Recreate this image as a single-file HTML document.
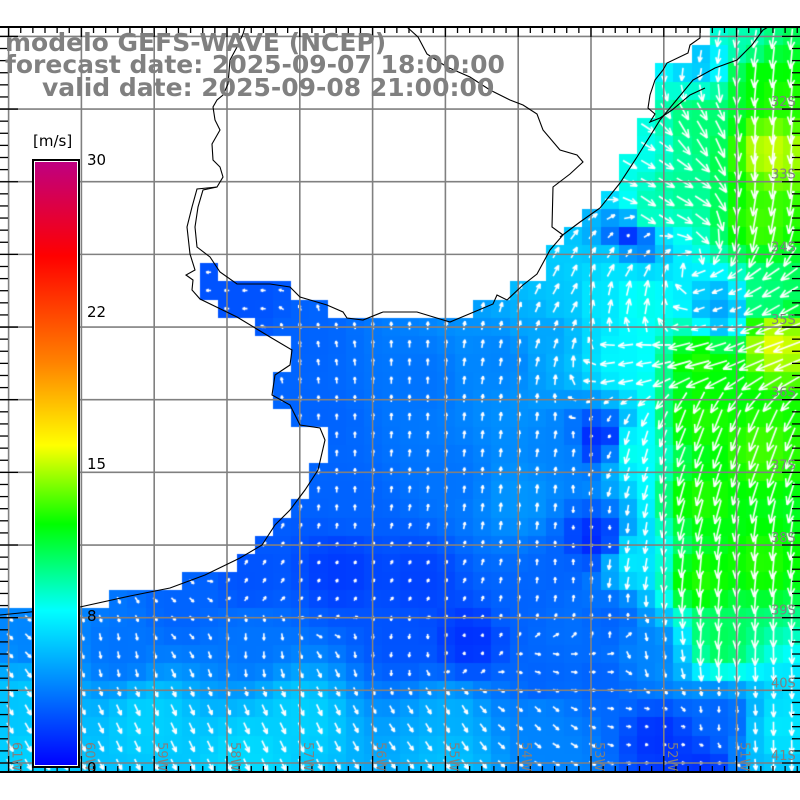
<!DOCTYPE html>
<html><head><meta charset="utf-8">
<style>
html,body{margin:0;padding:0;background:#fff;}
#wrap{position:relative;width:800px;height:800px;overflow:hidden;background:#fff;}
canvas,svg{position:absolute;left:0;top:0;}
.t{position:absolute;font-family:"DejaVu Sans","Liberation Sans",sans-serif;font-weight:bold;font-size:25px;color:#808080;white-space:nowrap;line-height:26px;}
.cl{position:absolute;font-family:"DejaVu Sans","Liberation Sans",sans-serif;font-size:15px;color:#000;white-space:nowrap;line-height:16px;}
#cb{position:absolute;left:32px;top:159px;width:44px;height:605px;border:2px solid #000;box-shadow:inset 0 0 0 1px #fff;
background:linear-gradient(to bottom,#be0082 0%,#ff0000 15.7%,#ff8200 33.3%,#ffff00 47%,#00ff00 60%,#00ffff 74.3%,#0000ff 100%);}
</style></head><body>
<div id="wrap">
<canvas id="c" width="800" height="800"></canvas>
<svg id="s" width="800" height="800" xmlns="http://www.w3.org/2000/svg"></svg>
<div class="t" style="left:5px;top:30px;">modelo GEFS-WAVE (NCEP)</div>
<div class="t" style="left:5px;top:52px;">forecast date: 2025-09-07 18:00:00</div>
<div class="t" style="left:42px;top:75px;">valid date: 2025-09-08 21:00:00</div>
<div class="cl" style="left:33px;top:133px;">[m/s]</div>
<div id="cb"></div>
<div class="cl" style="left:87px;top:152px;">30</div>
<div class="cl" style="left:87px;top:304px;">22</div>
<div class="cl" style="left:87px;top:456px;">15</div>
<div class="cl" style="left:87px;top:608px;">8</div>
<div class="cl" style="left:87px;top:760px;">0</div>
</div>
<script>
var A=[
[30,640,4,45],[120,650,3.5,80],[250,640,3.5,90],[400,640,2.5,100],
[30,700,6,60],[150,720,6.3,65],[300,720,6.3,65],[450,720,5.3,60],[540,720,4,45],
[30,760,6.3,60],[250,760,6.6,65],[450,760,5.8,55],[560,760,4,30],
[300,340,3,-100],[320,420,3,-90],[420,380,3.5,-90],[500,360,4,-80],[550,330,5,-70],
[350,500,3,-90],[450,480,3.5,-85],[520,500,4.5,-85],[560,450,4,-80],
[340,570,1.8,-60],[420,580,2,-60],[470,640,1.5,-70],[520,600,3,-80],[560,570,3,-90],
[600,440,1.2,120],[595,540,1.2,90],[610,620,3,-90],
[565,300,6,-60],[630,450,8,105],[630,560,7,100],
[650,650,4,80],[600,680,3,0],[540,680,3,20],
[640,150,8,30],[680,190,9.5,30],[650,210,9,35],[700,120,10,60],[770,150,15,95],[780,100,12.5,95],[760,220,13,100],
[620,265,7,-60],[600,300,7,-80],[640,300,8,-80],
[630,240,1.5,-45],[720,310,5,160],[770,300,10,150],
[700,360,12.5,165],[775,340,15.5,160],[625,360,7.5,170],
[700,420,12.5,110],[760,450,13,110],[700,500,12.5,105],[700,580,12.5,95],[760,560,12.5,95],[720,640,10.5,95],
[700,60,6,100],[740,40,9,100],[760,80,12,95],
[660,740,1.5,0],[720,720,3,90],[780,730,7,90],[700,770,1.5,0],[780,770,6,90],
[220,290,2.5,180],[250,300,2.5,180],[250,580,2.5,-60],[180,605,3,45]];
var L=[[0,27],[700,27],[708,42],[690,50],[670,62],[658,80],[650,100],[646,117],[636,134],[628,152],[618,170],[606,188],[592,206],[576,224],[558,242],[545,258],[537,274],[523,285],[507,300],[493,304],[450,322],[417,312],[383,312],[363,320],[347,318],[343,312],[327,305],[300,297],[290,287],[270,284],[237,284],[220,272],[210,257],[197,262],[193,280],[200,299],[237,317],[270,337],[292,350],[290,365],[275,375],[272,395],[290,405],[300,425],[320,428],[325,440],[318,470],[305,490],[290,510],[275,525],[262,545],[240,558],[205,575],[170,588],[130,596],[80,607],[30,612],[0,615]];
function inPoly(x,y,P){var c=false;for(var i=0,j=P.length-1;i<P.length;j=i++){var xi=P[i][0],yi=P[i][1],xj=P[j][0],yj=P[j][1];if(((yi>y)!=(yj>y))&&(x<(xj-xi)*(y-yi)/(yj-yi)+xi))c=!c;}return c;}
var stops=[[0,0,0,255],[7.7,0,255,255],[12,0,255,0],[15.9,255,255,0],[20,255,130,0],[25.3,255,0,0],[30,190,0,130]];
function col(v){v=Math.max(0,Math.min(30,v));for(var i=1;i<stops.length;i++){if(v<=stops[i][0]){var a=stops[i-1],b=stops[i],t=(v-a[0])/(b[0]-a[0]);return 'rgb('+Math.round(a[1]+t*(b[1]-a[1]))+','+Math.round(a[2]+t*(b[2]-a[2]))+','+Math.round(a[3]+t*(b[3]-a[3]))+')';}}return '#000';}
function field(x,y){var ws=0,s=0,u=0,w=0;for(var k=0;k<A.length;k++){var dx=x-A[k][0],dy=y-A[k][1],d=dx*dx+dy*dy+40;var wt=1/Math.pow(d,1.6);ws+=wt;s+=wt*A[k][2];var an=A[k][3]*Math.PI/180;u+=wt*Math.cos(an);w+=wt*Math.sin(an);}return [s/ws,Math.atan2(w,u)];}
var c=document.getElementById('c').getContext('2d');
var cw=18.2,ch=18.17;
var cells=[];
for(var j=0;j<41;j++)for(var i=0;i<44;i++){
 var x0=i*cw,y0=27+j*ch,cx=x0+cw/2,cy=y0+ch/2;
 if(inPoly(cx,cy,L))continue;
 var f=field(cx,cy);
 c.fillStyle=col(f[0]);
 var X0=Math.round(x0),Y0=Math.round(y0),X1=Math.round(x0+cw),Y1=Math.min(772,Math.round(y0+ch));
 c.fillRect(X0,Y0,X1-X0,Y1-Y0);
 cells.push([cx,cy,f[0],f[1]]);
}
c.strokeStyle='#fff';c.lineWidth=1.6;
cells.forEach(function(e){var len=Math.max(3,2.0*e[2]);var a=e[3];var sx=e[0]-Math.cos(a)*len*0.35,sy=e[1]-Math.sin(a)*len*0.35;var tx=sx+Math.cos(a)*len,ty=sy+Math.sin(a)*len;
 c.beginPath();c.moveTo(sx,sy);c.lineTo(tx,ty);var h=Math.min(9,Math.max(3,len*0.45));
 c.moveTo(tx,ty);c.lineTo(tx-h*Math.cos(a-0.4),ty-h*Math.sin(a-0.4));
 c.moveTo(tx,ty);c.lineTo(tx-h*Math.cos(a+0.4),ty-h*Math.sin(a+0.4));c.stroke();});
var S='';
for(var k=0;k<11;k++){var gx=8.6+72.8*k;S+='<line x1="'+gx+'" y1="27" x2="'+gx+'" y2="772" stroke="#808080" stroke-width="1.6"/>';}
for(var k=0;k<11;k++){var gy=36.4+72.66*k;S+='<line x1="0" y1="'+gy+'" x2="800" y2="'+gy+'" stroke="#808080" stroke-width="1.6"/>';}
function pl(p){return '<polyline fill="none" stroke="#000" stroke-width="1.1" points="'+p.map(function(q){return q.join(',')}).join(' ')+'"/>';}
S+=pl([[407,27],[418,37],[427,54],[447,67],[470,77],[490,90],[510,100],[523,105],[537,114],[543,130],[560,150],[577,155],[583,162],[570,174],[553,187],[552,227],[563,235],[550,250],[537,274],[523,285],[507,300],[497,295],[493,304],[450,322],[417,312],[383,312],[363,320],[347,318],[343,312],[327,305],[300,297],[290,287],[270,284],[237,284],[220,272],[210,257],[197,247],[195,227],[198,207],[203,190],[217,187],[223,177],[220,167],[213,160],[212,144],[220,130],[215,120],[213,107],[217,100],[223,95],[228,84],[230,60],[237,47],[243,34],[245,27]]);
S+=pl([[217,187],[197,189],[192,207],[187,227],[190,254],[195,270],[186,275],[193,280],[192,290],[200,299],[237,317],[270,337],[292,350],[290,365],[275,375],[272,395],[290,405],[300,425],[320,428],[325,440],[318,470],[305,490],[290,510],[275,525],[262,545],[240,558],[205,575],[170,588],[130,596],[80,607],[30,612],[0,615]]);
S+=pl([[560,237],[580,222],[600,208],[620,183],[637,157],[660,120],[693,80],[715,68],[737,60],[752,45],[763,30],[768,27]]);
S+=pl([[700,27],[700,38],[690,45],[688,53],[667,63],[663,70],[655,80],[650,95],[648,108],[655,114],[650,122],[660,118],[672,110],[690,95],[705,88]]);
S+='<line x1="0" y1="27" x2="800" y2="27" stroke="#000" stroke-width="2"/>';
S+='<line x1="0" y1="772" x2="800" y2="772" stroke="#000" stroke-width="2"/>';
for(var k=-1;k<67;k++){var x=8.6+12.133*k;if(x<0||x>800)continue;var lg=((k%6)+6)%6==0;
 S+='<line x1="'+x+'" y1="27" x2="'+x+'" y2="'+(lg?37:33)+'" stroke="#000" stroke-width="1.3"/>';
 S+='<line x1="'+x+'" y1="772" x2="'+x+'" y2="'+(lg?756:766)+'" stroke="#000" stroke-width="1.3"/>';}
for(var k=0;k<62;k++){var y=36.4+12.11*k;if(y>772)continue;var lg=k%6==0;
 S+='<line x1="0" y1="'+y+'" x2="'+(lg?18:8)+'" y2="'+y+'" stroke="#000" stroke-width="1.3"/>';
 S+='<line x1="800" y1="'+y+'" x2="'+(lg?782:792)+'" y2="'+y+'" stroke="#000" stroke-width="1.3"/>';}
var lats=['32S','33S','34S','35S','36S','37S','38S','39S','40S','41S'];
for(var k=0;k<10;k++){var gy=109+72.66*k;S+='<text x="771" y="'+(gy-3)+'" font-family="DejaVu Sans,Liberation Sans,sans-serif" font-size="13" fill="#808080">'+lats[k]+'</text>';}
var lons=['61W','60W','59W','58W','57W','56W','55W','54W','53W','52W','51W'];
for(var k=0;k<11;k++){var gx=8.6+72.8*k+4;S+='<text transform="translate('+gx+',742) rotate(90)" font-family="DejaVu Sans,Liberation Sans,sans-serif" font-size="13" fill="#808080">'+lons[k]+'</text>';}
document.getElementById('s').innerHTML=S;
</script>
</body></html>
